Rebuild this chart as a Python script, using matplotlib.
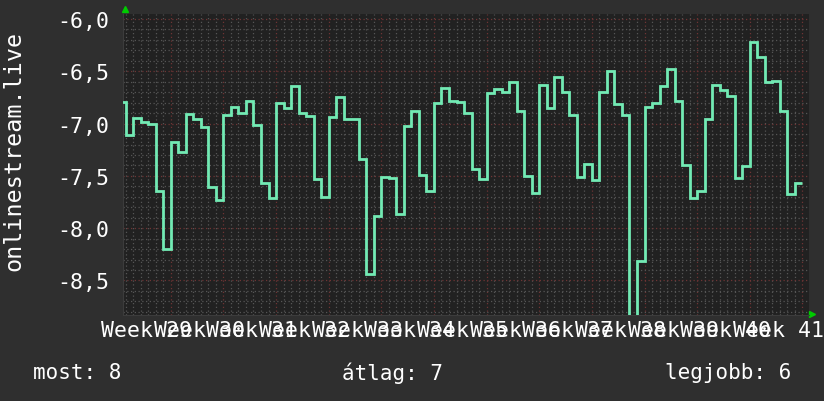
import numpy as np
import matplotlib
matplotlib.use("Agg")
import matplotlib.pyplot as plt
from matplotlib.ticker import MultipleLocator, FuncFormatter

# daily values, day 0 = start of week 29
values = [
    -6.79, -7.11, -6.95, -6.98, -7.00, -7.64, -8.20, -7.18, -7.27, -6.91,
    -6.96, -7.03, -7.61, -7.73, -6.92, -6.84, -6.90, -6.78, -7.01, -7.57,
    -7.71, -6.80, -6.85, -6.64, -6.90, -6.93, -7.53, -7.70, -6.94, -6.75,
    -6.96, -6.96, -7.34, -8.44, -7.88, -7.51, -7.52, -7.86, -7.02, -6.88,
    -7.49, -7.64, -6.80, -6.66, -6.78, -6.79, -6.90, -7.43, -7.53, -6.71,
    -6.67, -6.70, -6.60, -6.88, -7.50, -7.66, -6.63, -6.85, -6.55, -6.70,
    -6.92, -7.51, -7.39, -7.54, -6.70, -6.50, -6.81, -6.92, -9.20, -8.31,
    -6.84, -6.80, -6.64, -6.48, -6.78, -7.40, -7.71, -7.64, -6.96, -6.63,
    -6.68, -6.74, -7.52, -7.41, -6.22, -6.36, -6.60, -6.59, -6.88, -7.67,
    -7.57,
]
week_labels = ["Week %d" % w for w in range(29, 42)]
y_label = "onlinestream.live"
footer = ["most: 8", "átlag: 7", "legjobb: 6"]

BG = "#2f2f2f"
PLOT_BG = "#212121"
LINE = "#72eab4"
MINOR = "#555555"
MAJOR = "#6e3434"
FONT = "DejaVu Sans Mono"

W, H = 824, 402
fig = plt.figure(figsize=(W / 100, H / 100), dpi=100, facecolor=BG)
ax = fig.add_axes([123 / W, (H - 316) / H, 686 / W, 301 / H])
ax.set_facecolor(PLOT_BG)

edges = np.arange(len(values) + 1)
ax.stairs(values, edges, baseline=None, color=LINE, linewidth=2.0, zorder=3)

ax.set_xlim(0.65, 91.87)
ax.set_ylim(-8.83, -5.952)

ax.xaxis.set_major_locator(MultipleLocator(7))
ax.xaxis.set_minor_locator(MultipleLocator(1))
ax.yaxis.set_major_locator(MultipleLocator(0.5))
ax.yaxis.set_minor_locator(MultipleLocator(0.1))
ax.grid(which="minor", color=MINOR, linestyle=(0, (1, 2)), linewidth=0.9)
ax.grid(which="major", color=MAJOR, linestyle=(0, (1, 2)), linewidth=0.9)
ax.set_axisbelow(True)

ax.yaxis.set_major_formatter(FuncFormatter(lambda v, p: ("%.1f" % v).replace(".", ",")))
ax.tick_params(axis="y", which="both", length=0, pad=10, labelsize=15.5,
               labelcolor="white")
ax.tick_params(axis="x", which="both", length=0, labelbottom=False)
for lab in ax.get_yticklabels():
    lab.set_fontfamily(FONT)

for s in ["top", "right"]:
    ax.spines[s].set_visible(False)
for s in ["left", "bottom"]:
    ax.spines[s].set_color("#3c3c3c")

# week labels at the middle of each week (they overlap, as in rrdtool)
for i, lab in enumerate(week_labels):
    ax.text(7 * i + 3.8, -0.05, lab, transform=ax.get_xaxis_transform(),
            ha="center", va="center", color="white", fontsize=15.5,
            family=FONT, clip_on=False)

# axis arrows
ax.plot([0.003], [1.017], marker="^", color="#00cc00", markersize=5,
        transform=ax.transAxes, clip_on=False)
ax.plot([1.004], [0.003], marker=">", color="#00cc00", markersize=5,
        transform=ax.transAxes, clip_on=False)

fig.text(14 / W, 1 - 151 / H, y_label, rotation=90, ha="center", va="center",
         color="white", fontsize=16.8, family=FONT)

fig.text(33 / W, 1 - 373 / H, footer[0], ha="left", va="center",
         color="white", fontsize=15, family=FONT)
fig.text(393 / W, 1 - 373 / H, footer[1], ha="center", va="center",
         color="white", fontsize=15, family=FONT)
fig.text(791 / W, 1 - 373 / H, footer[2], ha="right", va="center",
         color="white", fontsize=15, family=FONT)

fig.savefig("out.png", dpi=100, facecolor=BG)
